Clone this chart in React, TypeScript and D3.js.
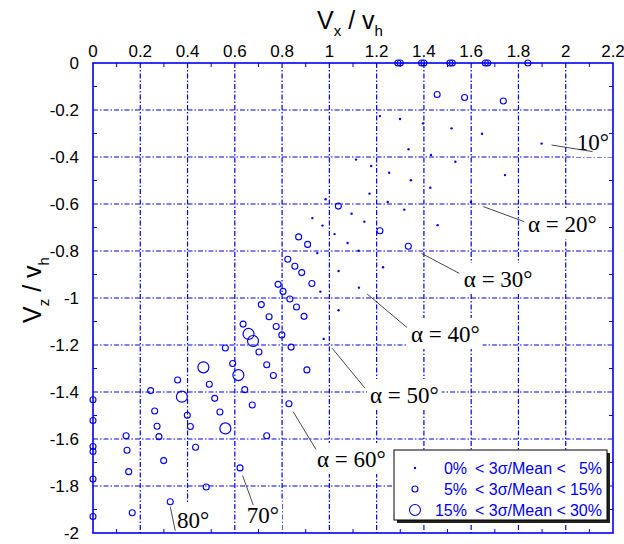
import React, { useEffect, useRef } from "react";
import * as d3 from "d3";

// 0% < 3σ/Mean < 5%
const lowSpread: [number, number][] = [
  [1.214, -0.226], [1.299, -0.238], [1.396, -0.257], [1.517, -0.278], [1.646, -0.301],
  [1.898, -0.343], [1.335, -0.367], [1.43, -0.391], [1.113, -0.411], [1.533, -0.42],
  [1.177, -0.438], [1.253, -0.467], [1.743, -0.477], [1.345, -0.499], [1.427, -0.531],
  [1.17, -0.556], [0.984, -0.58], [1.247, -0.591], [1.599, -0.591], [1.317, -0.624],
  [1.094, -0.641], [0.928, -0.66], [1.148, -0.675], [0.971, -0.692], [1.458, -0.69],
  [1.022, -0.728], [1.077, -0.766], [1.124, -0.799], [0.949, -0.809], [1.227, -0.869],
  [1.039, -0.885], [1.125, -0.956], [0.962, -0.973], [1.039, -1.052], [0.976, -1.174],
];

// 5% < 3σ/Mean < 15%
const midSpread: [number, number][] = [
  [1.29, 0], [1.3, 0], [1.39, 0], [1.4, 0], [1.51, 0], [1.52, 0], [1.66, 0], [1.67, 0], [1.84, 0],
  [0, -1.433], [0, -1.521], [0, -1.632], [0, -1.653], [0, -1.77], [0, -1.93],
  [1.456, -0.134], [1.572, -0.147], [1.736, -0.162], [1.038, -0.609], [1.214, -0.714],
  [0.87, -0.74], [0.908, -0.772], [1.334, -0.78], [0.824, -0.835], [0.854, -0.865],
  [0.883, -0.892], [0.926, -0.938], [0.783, -0.942], [0.804, -0.972], [0.833, -1.004],
  [0.712, -1.028], [0.861, -1.038], [0.893, -1.078], [0.745, -1.08], [0.635, -1.111],
  [0.775, -1.121], [0.799, -1.157], [0.838, -1.209], [0.56, -1.213], [0.702, -1.23],
  [0.591, -1.279], [0.735, -1.284], [0.763, -1.33], [0.905, -1.306], [0.358, -1.349],
  [0.492, -1.367], [0.642, -1.39], [0.244, -1.394], [0.515, -1.427], [0.829, -1.45],
  [0.674, -1.455], [0.261, -1.481], [0.537, -1.485], [0.399, -1.499], [0.271, -1.546],
  [0.412, -1.547], [0.14, -1.586], [0.279, -1.59], [0.735, -1.586], [0.434, -1.635],
  [0.144, -1.648], [0.299, -1.692], [0.622, -1.723], [0.151, -1.739], [0.479, -1.804],
  [0.327, -1.867], [0.166, -1.914],
];

// 15% < 3σ/Mean < 30%
const highSpread: [number, number][] = [
  [0.658, -1.153], [0.677, -1.183], [0.467, -1.295], [0.615, -1.328], [0.376, -1.42], [0.56, -1.555],
];

const xTicks = [0, 0.2, 0.4, 0.6, 0.8, 1, 1.2, 1.4, 1.6, 1.8, 2, 2.2];
const yTicks = [0, -0.2, -0.4, -0.6, -0.8, -1, -1.2, -1.4, -1.6, -1.8, -2];

// angle labels: text, pointer start, pointer end, text anchor (data units)
const angleLabels = [
  { text: "10°", from: [1.94, -0.349], to: [2.114, -0.377], at: [2.047, -0.37] },
  { text: "α = 20°", from: [1.651, -0.611], to: [1.824, -0.675], at: [1.84, -0.719] },
  { text: "α = 30°", from: [1.39, -0.81], to: [1.549, -0.895], at: [1.569, -0.953] },
  { text: "α = 40°", from: [1.16, -0.983], to: [1.329, -1.126], at: [1.345, -1.187] },
  { text: "α = 50°", from: [1.012, -1.214], to: [1.151, -1.384], at: [1.172, -1.447] },
  { text: "α = 60°", from: [0.847, -1.484], to: [0.943, -1.644], at: [0.948, -1.719] },
  { text: "70°", from: [0.633, -1.756], to: [0.678, -1.881], at: [0.651, -1.957] },
  { text: "80°", from: [0.327, -1.888], to: [0.348, -1.99], at: [0.355, -1.979] },
];

const legendLow = ["0%", "5%", "15%"];
const legendHigh = ["5%", "15%", "30%"];

const W = 624;
const H = 544;
const blue = "#0000ee";
const sans = "'Liberation Sans', Arial, sans-serif";
const serif = "'Liberation Serif', 'Times New Roman', serif";

const App = () => {
  const svgRef = useRef<SVGSVGElement>(null);

  useEffect(() => {
    const svg = d3.select(svgRef.current);
    svg.selectAll("*").remove();

    const x = d3.scaleLinear().domain([0, 2.2]).range([93, 613]);
    const y = d3.scaleLinear().domain([0, -2]).range([63, 533]);

    // grid
    const grid = svg.append("g").attr("stroke", blue).attr("stroke-width", 1.2).attr("stroke-dasharray", "5 2 1.5 2");
    grid.selectAll(".gx")
      .data(xTicks.slice(1, -1))
      .enter()
      .append("line")
      .attr("x1", (d) => x(d)).attr("x2", (d) => x(d))
      .attr("y1", y(0)).attr("y2", y(-2));
    grid.selectAll(".gy")
      .data(yTicks.slice(1, -1))
      .enter()
      .append("line")
      .attr("y1", (d) => y(d)).attr("y2", (d) => y(d))
      .attr("x1", x(0)).attr("x2", x(2.2));

    // white boxes behind the angle labels
    const boxes = svg.append("g");

    // minor ticks
    const minorX = d3.range(1, 22, 2).map((i) => i / 10);
    const minorY = d3.range(1, 20, 2).map((i) => -i / 10);
    const ticks = svg.append("g").attr("stroke", blue).attr("stroke-width", 1);
    minorX.forEach((v) => {
      ticks.append("line").attr("x1", x(v)).attr("x2", x(v)).attr("y1", y(0)).attr("y2", y(0) + 4);
      ticks.append("line").attr("x1", x(v)).attr("x2", x(v)).attr("y1", y(-2)).attr("y2", y(-2) - 4);
    });
    minorY.forEach((v) => {
      ticks.append("line").attr("y1", y(v)).attr("y2", y(v)).attr("x1", x(0)).attr("x2", x(0) + 4);
      ticks.append("line").attr("y1", y(v)).attr("y2", y(v)).attr("x1", x(2.2)).attr("x2", x(2.2) - 4);
    });

    // frame
    svg.append("rect")
      .attr("x", x(0)).attr("y", y(0))
      .attr("width", x(2.2) - x(0)).attr("height", y(-2) - y(0))
      .attr("fill", "none").attr("stroke", blue).attr("stroke-width", 1.6);

    // tick labels
    svg.append("g").selectAll("text")
      .data(xTicks)
      .enter()
      .append("text")
      .attr("x", (d) => x(d)).attr("y", 57)
      .attr("text-anchor", "middle")
      .attr("font-family", sans).attr("font-size", 17)
      .text((d) => String(d));
    svg.append("g").selectAll("text")
      .data(yTicks)
      .enter()
      .append("text")
      .attr("x", 79).attr("y", (d) => y(d) + 6)
      .attr("text-anchor", "end")
      .attr("font-family", sans).attr("font-size", 17)
      .text((d) => String(d));

    // axis titles
    const tx = svg.append("text").attr("x", 350).attr("y", 29).attr("text-anchor", "middle")
      .attr("font-family", sans).attr("font-size", 25);
    tx.append("tspan").text("V");
    tx.append("tspan").attr("font-size", 15).attr("dy", 7).text("x");
    tx.append("tspan").attr("dy", -7).text(" / v");
    tx.append("tspan").attr("font-size", 15).attr("dy", 7).text("h");

    const ty = svg.append("text").attr("transform", "translate(41,290) rotate(-90)").attr("text-anchor", "middle")
      .attr("font-family", sans).attr("font-size", 25);
    ty.append("tspan").text("V");
    ty.append("tspan").attr("font-size", 15).attr("dy", 8).text("z");
    ty.append("tspan").attr("dy", -8).text(" / v");
    ty.append("tspan").attr("font-size", 15).attr("dy", 8).text("h");

    // points
    const pts = svg.append("g");
    pts.selectAll(".lo")
      .data(lowSpread)
      .enter()
      .append("circle")
      .attr("cx", (d) => x(d[0])).attr("cy", (d) => y(d[1]))
      .attr("r", 1.2).attr("fill", blue);
    pts.selectAll(".mid")
      .data(midSpread)
      .enter()
      .append("circle")
      .attr("cx", (d) => x(d[0])).attr("cy", (d) => y(d[1]))
      .attr("r", 3).attr("fill", "none").attr("stroke", blue).attr("stroke-width", 1.1);
    pts.selectAll(".hi")
      .data(highSpread)
      .enter()
      .append("circle")
      .attr("cx", (d) => x(d[0])).attr("cy", (d) => y(d[1]))
      .attr("r", 5.5).attr("fill", "none").attr("stroke", blue).attr("stroke-width", 1.2);

    // angle labels and pointers
    const ann = svg.append("g");
    angleLabels.forEach((a) => {
      ann.append("line")
        .attr("x1", x(a.from[0])).attr("y1", y(a.from[1]))
        .attr("x2", x(a.to[0])).attr("y2", y(a.to[1]))
        .attr("stroke", "#333").attr("stroke-width", 0.9);
      const t = ann.append("text")
        .attr("x", x(a.at[0])).attr("y", y(a.at[1]))
        .attr("font-family", serif).attr("font-size", 23)
        .text(a.text);
      const bb = (t.node() as SVGTextElement).getBBox();
      boxes.append("rect")
        .attr("x", bb.x - 3).attr("y", bb.y - 4)
        .attr("width", bb.width + 6).attr("height", bb.height + 6)
        .attr("fill", "white");
    });

    // legend
    const lg = svg.append("g").attr("transform", "translate(394,450)");
    lg.append("rect").attr("x", 3).attr("y", 3).attr("width", 213).attr("height", 70).attr("fill", "#222");
    lg.append("rect").attr("width", 213).attr("height", 70).attr("fill", "white").attr("stroke", "black").attr("stroke-width", 1);
    legendLow.forEach((lo, i) => {
      const cy = 18 + i * 21;
      const c = lg.append("circle").attr("cx", 21).attr("cy", cy);
      if (i === 0) c.attr("r", 1.2).attr("fill", blue);
      else c.attr("r", i === 1 ? 3 : 5.5).attr("fill", "none").attr("stroke", blue).attr("stroke-width", 1.1);
      const base = cy + 6;
      lg.append("text").attr("x", 73).attr("y", base).attr("text-anchor", "end")
        .attr("font-family", sans).attr("font-size", 16).attr("fill", blue).text(lo);
      lg.append("text").attr("x", 81).attr("y", base)
        .attr("font-family", sans).attr("font-size", 16).attr("fill", blue).text("< 3σ/Mean <");
      lg.append("text").attr("x", 208).attr("y", base).attr("text-anchor", "end")
        .attr("font-family", sans).attr("font-size", 16).attr("fill", blue).text(legendHigh[i]);
    });
  }, []);

  return (
    <svg
      ref={svgRef}
      width={W}
      height={H}
      style={{ position: "absolute", left: 0, top: 0, background: "white" }}
    ></svg>
  );
};

export default App;
